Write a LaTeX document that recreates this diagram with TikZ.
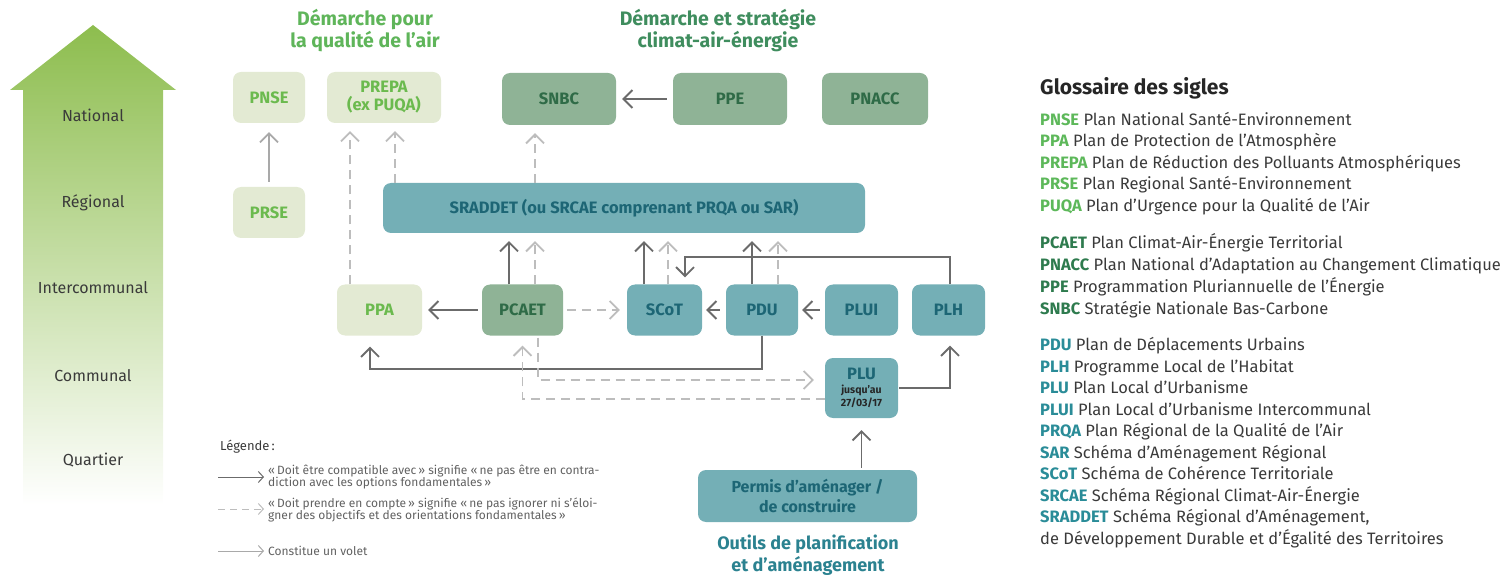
\documentclass[tikz,border=0pt]{standalone}
\usepackage{fontspec}
\setmainfont{Fira Sans}
\usepackage{tikz}
\usetikzlibrary{arrows.meta}

\definecolor{airfond}{HTML}{E3EAD3}
\definecolor{airtexte}{HTML}{6BBA4E}
\definecolor{climfond}{HTML}{8FB396}
\definecolor{climtexte}{HTML}{2F6B47}
\definecolor{planfond}{HTML}{74AFB6}
\definecolor{plantexte}{HTML}{1D6675}
\definecolor{flechefonce}{HTML}{6B6B6B}
\definecolor{flecheclair}{HTML}{BDBDBD}
\definecolor{flechevolet}{HTML}{A9A9A9}
\definecolor{echelle}{HTML}{8DBD4E}
\definecolor{gris}{HTML}{3A3A3A}
\definecolor{titreair}{HTML}{5FB55A}
\definecolor{titreclim}{HTML}{3F8D5E}
\definecolor{titreplan}{HTML}{2B8290}
\definecolor{sigleair}{HTML}{5DB85A}
\definecolor{sigleclim}{HTML}{2E7B4E}
\definecolor{sigleplan}{HTML}{2A8C98}

\newcommand{\sigle}[2]{{\bfseries\color{#1}#2}}

\tikzset{
  doc/.style={rounded corners=8pt, inner sep=0pt, align=center,
    font=\fontsize{16.5}{18}\selectfont\bfseries},
  airbox/.style={doc, fill=airfond, text=airtexte},
  climbox/.style={doc, fill=climfond, text=climtexte},
  planbox/.style={doc, fill=planfond, text=plantexte},
  compatible/.style={draw=flechefonce, line width=1.8pt,
    -{Straight Barb[length=9pt,width=18pt]}, shorten >=8pt},
  encompte/.style={draw=flecheclair, line width=1.8pt, dash pattern=on 9pt off 6pt,
    -{Straight Barb[length=9pt,width=18pt]}, shorten >=8pt},
  volet/.style={draw=flechevolet, line width=1.8pt,
    -{Straight Barb[length=9pt,width=18pt]}, shorten >=8pt},
  niveau/.style={font=\fontsize{16}{18}\selectfont, text=gris},
  titre/.style={font=\fontsize{19.5}{22}\selectfont\bfseries, align=center},
  glose/.style={anchor=base west, inner sep=0pt, font=\fontsize{16.5}{18}\selectfont, text=gris},
  legende/.style={anchor=west, inner sep=0pt, align=left, font=\fontsize{12}{11.5}\selectfont, text=gris!80}
}

\begin{document}
\begin{tikzpicture}[x=1pt,y=-1pt]
\useasboundingbox (0,0) rectangle (1504,577);

% echelles territoriales
\shade[top color=echelle, bottom color=white]
  (93,25) -- (176,90) -- (163,90) -- (163,505) -- (23,505) -- (23,90) -- (10,90) -- cycle;
\node[niveau] (national) at (93,115) {National};
\node[niveau] (regional) at (93,203) {Régional};
\node[niveau] (intercom) at (93,288) {Intercommunal};
\node[niveau] (communal) at (93,376) {Communal};
\node[niveau] (quartier) at (93,460) {Quartier};

\node[titre, text=titreair] (titreair) at (365,31) {Démarche pour\\la qualité de l'air};
\node[titre, text=titreclim] (titreclim) at (718,31) {Démarche et stratégie\\climat-air-énergie};
\node[titre, text=titreplan, font=\fontsize{18}{22}\selectfont\bfseries] (titreplan) at (808,555) {Outils de planification\\et d'aménagement};

% national
\node[airbox, minimum width=72pt, minimum height=51pt] (pnse) at (269,97.5) {PNSE};
\node[airbox, minimum width=114pt, minimum height=51pt] (prepa) at (384,97.5) {PREPA\\(ex PUQA)};
\node[climbox, minimum width=114pt, minimum height=52pt] (snbc) at (559,99) {SNBC};
\node[climbox, minimum width=114pt, minimum height=52pt] (ppe) at (730,99) {PPE};
\node[climbox, minimum width=106pt, minimum height=52pt] (pnacc) at (875,99) {PNACC};

% regional
\node[airbox, minimum width=72pt, minimum height=51pt] (prse) at (269,212.5) {PRSE};
\node[planbox, minimum width=482pt, minimum height=50pt] (sraddet) at (624,208) {SRADDET (ou SRCAE comprenant PRQA ou SAR)};

% intercommunal
\node[airbox, minimum width=85pt, minimum height=51pt] (ppa) at (379.5,310) {PPA};
\node[climbox, minimum width=81pt, minimum height=51pt] (pcaet) at (522.5,310) {PCAET};
\node[planbox, minimum width=75pt, minimum height=51pt] (scot) at (664.5,310) {SCoT};
\node[planbox, minimum width=72pt, minimum height=51pt] (pdu) at (762,310) {PDU};
\node[planbox, minimum width=73pt, minimum height=51pt] (plui) at (861.5,310) {PLUI};
\node[planbox, minimum width=73pt, minimum height=51pt] (plh) at (948.5,310) {PLH};

% communal
\node[planbox, minimum width=73pt, minimum height=60pt] (plu) at (861.5,388)
  {PLU\\[-4pt]{\fontsize{10.5}{11}\selectfont\color{black!85}jusqu'au}\\[-5pt]{\fontsize{10.5}{11}\selectfont\color{black!85}27/03/17}};
\node[planbox, minimum width=219pt, minimum height=52pt, font=\fontsize{16}{20}\selectfont\bfseries] (permis) at (807.5,496)
  {Permis d'aménager /\\de construire};

\draw[volet, shorten <=5pt, shorten >=9pt] (prse) -- (pnse);
\draw[encompte] ([xshift=-29.5pt]ppa.north) -- ([xshift=-29.5pt]ppa.north |- prepa.south);
\draw[encompte] ([xshift=11pt]prepa.south |- sraddet.north) -- ([xshift=11pt]prepa.south);
\draw[encompte] ([xshift=-24pt]snbc.south |- sraddet.north) -- ([xshift=-24pt]snbc.south);
\draw[compatible, shorten <=6pt, shorten >=6pt] (ppe) -- (snbc);

\draw[compatible] ([xshift=-13.5pt]pcaet.north) -- ([xshift=-13.5pt]pcaet.north |- sraddet.south);
\draw[encompte] ([xshift=12.5pt]pcaet.north) -- ([xshift=12.5pt]pcaet.north |- sraddet.south);
\draw[compatible] ([xshift=-20.5pt]scot.north) -- ([xshift=-20.5pt]scot.north |- sraddet.south);
\draw[encompte] ([xshift=3.5pt]scot.north) -- ([xshift=3.5pt]scot.north |- sraddet.south);
\draw[compatible] ([xshift=-10pt]pdu.north) -- ([xshift=-10pt]pdu.north |- sraddet.south);
\draw[encompte] ([xshift=16pt]pdu.north) -- ([xshift=16pt]pdu.north |- sraddet.south);
\draw[compatible, shorten >=7pt] ([xshift=1.5pt]plh.north) -- ++(0,-27) -| ([xshift=20.5pt]scot.north);

\draw[compatible, shorten <=4pt, shorten >=6pt] (pcaet) -- (ppa);
\draw[encompte, shorten <=4pt, shorten >=7pt] (pcaet) -- (scot);
\draw[compatible, shorten <=6pt, shorten >=4pt] (pdu) -- (scot);
\draw[compatible, shorten <=5pt, shorten >=4pt] (plui) -- (pdu);

\draw[compatible, shorten >=11pt] (pdu.south) -- ++(0,33) -| ([xshift=-9.5pt]ppa.south);
\draw[encompte, shorten <=2pt, shorten >=11pt] ([xshift=15.5pt]pcaet.south) |- ([yshift=8pt]plu.west);
\draw[encompte, shorten >=10pt] ([yshift=-11pt]plu.west) -| (pcaet.south);
\draw[compatible, shorten <=1pt, shorten >=10pt] (plu.east) -| ([xshift=1.5pt]plh.south);
\draw[compatible, shorten <=2pt, shorten >=12pt] (permis.north -| plu.south) -- (plu.south);

% legende
\node[anchor=west, inner sep=0pt, font=\fontsize{13}{15}\selectfont, text=gris] (legende) at (220,447) {Légende\,:};
\node[legende] (leg1) at (268,477) {«\,Doit être compatible avec\,» signifie «\,ne pas être en contra-\\diction avec les options fondamentales\,»};
\node[legende] (leg2) at (268,510) {«\,Doit prendre en compte\,» signifie «\,ne pas ignorer ni s'éloi-\\gner des objectifs et des orientations fondamentales\,»};
\node[legende] (leg3) at (268,551) {Constitue un volet};
\coordinate (l1) at (218,477);
\coordinate (l2) at (218,509);
\coordinate (l3) at (218,551);
\draw[compatible, line width=1pt, -{Straight Barb[length=5pt,width=11pt]}, shorten >=4pt] (l1) -- (leg1.west |- l1);
\draw[encompte, line width=1pt, dash pattern=on 7pt off 5pt, -{Straight Barb[length=5pt,width=11pt]}, shorten >=4pt] (l2) -- (leg2.west |- l2);
\draw[volet, line width=1pt, -{Straight Barb[length=5pt,width=11pt]}, shorten >=4pt] (l3) -- (leg3.west);

% glossaire
\node[anchor=base west, inner sep=0pt, font=\fontsize{21}{23}\selectfont\bfseries, text=black!85] (glossaire) at (1040,95) {Glossaire des sigles};
\node[glose] (g1) at (1040,125.5) {\sigle{sigleair}{PNSE} Plan National Santé-Environnement};
\node[glose] (g2) at (1040,147) {\sigle{sigleair}{PPA} Plan de Protection de l'Atmosphère};
\node[glose] (g3) at (1040,168.5) {\sigle{sigleair}{PREPA} Plan de Réduction des Polluants Atmosphériques};
\node[glose] (g4) at (1040,190) {\sigle{sigleair}{PRSE} Plan Regional Santé-Environnement};
\node[glose] (g5) at (1040,211.5) {\sigle{sigleair}{PUQA} Plan d'Urgence pour la Qualité de l'Air};

\node[glose] (g6) at (1040,248.5) {\sigle{sigleclim}{PCAET} Plan Climat-Air-Énergie Territorial};
\node[glose] (g7) at (1040,270.5) {\sigle{sigleclim}{PNACC} Plan National d'Adaptation au Changement Climatique};
\node[glose] (g8) at (1040,292.5) {\sigle{sigleclim}{PPE} Programmation Pluriannuelle de l'Énergie};
\node[glose] (g9) at (1040,314) {\sigle{sigleclim}{SNBC} Stratégie Nationale Bas-Carbone};

\node[glose] (g10) at (1040,350.5) {\sigle{sigleplan}{PDU} Plan de Déplacements Urbains};
\node[glose] (g11) at (1040,372) {\sigle{sigleplan}{PLH} Programme Local de l'Habitat};
\node[glose] (g12) at (1040,393.5) {\sigle{sigleplan}{PLU} Plan Local d'Urbanisme};
\node[glose] (g13) at (1040,415) {\sigle{sigleplan}{PLUI} Plan Local d'Urbanisme Intercommunal};
\node[glose] (g14) at (1040,436.5) {\sigle{sigleplan}{PRQA} Plan Régional de la Qualité de l'Air};
\node[glose] (g15) at (1040,458) {\sigle{sigleplan}{SAR} Schéma d'Aménagement Régional};
\node[glose] (g16) at (1040,479.5) {\sigle{sigleplan}{SCoT} Schéma de Cohérence Territoriale};
\node[glose] (g17) at (1040,501) {\sigle{sigleplan}{SRCAE} Schéma Régional Climat-Air-Énergie};
\node[glose] (g18) at (1040,522.5) {\sigle{sigleplan}{SRADDET} Schéma Régional d'Aménagement,};
\node[glose] (g19) at (1040,544) {de Développement Durable et d'Égalité des Territoires};
\end{tikzpicture}
\end{document}
